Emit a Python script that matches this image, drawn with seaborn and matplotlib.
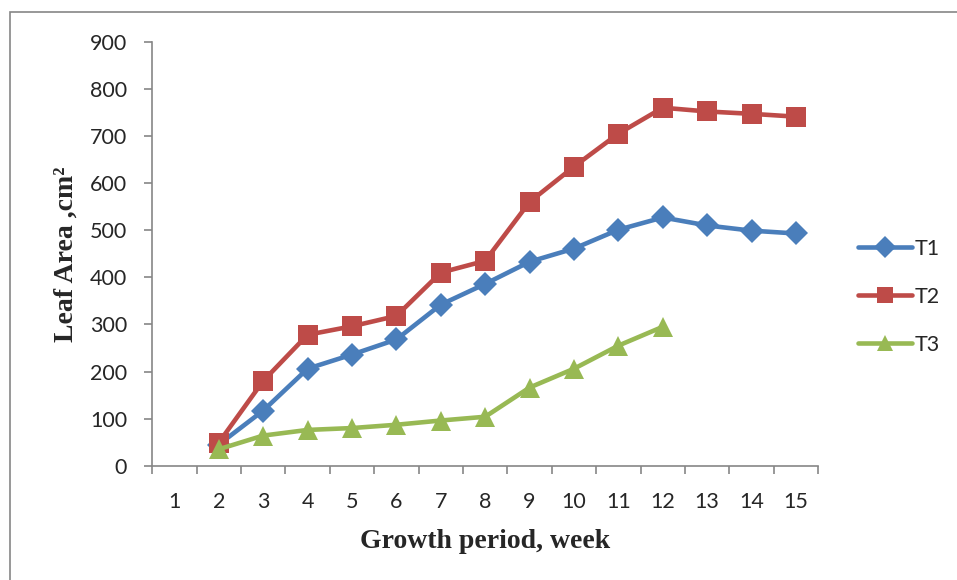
import numpy as np
import pandas as pd
import seaborn as sns
import matplotlib.pyplot as plt
from matplotlib.patches import Rectangle

sns.set_style("white")

weeks = list(range(1, 16))
t1_weeks = list(range(2, 16))
t1 = [45, 117, 206, 236, 268, 342, 386, 433, 461, 501, 527, 510, 499, 493]
t2_weeks = list(range(2, 16))
t2 = [49, 180, 278, 296, 318, 410, 435, 560, 635, 705, 760, 752, 747, 741]
t3_weeks = list(range(2, 13))
t3 = [35, 64, 76, 80, 87, 96, 104, 166, 206, 255, 295]

df = pd.concat([
    pd.DataFrame({'week': t1_weeks, 'area': t1, 'treatment': 'T1'}),
    pd.DataFrame({'week': t2_weeks, 'area': t2, 'treatment': 'T2'}),
    pd.DataFrame({'week': t3_weeks, 'area': t3, 'treatment': 'T3'}),
])

palette = {'T1': '#4A7EBB', 'T2': '#BE4B48', 'T3': '#98B954'}
markers = {'T1': 'D', 'T2': 's', 'T3': '^'}
sizes = {'T1': 12, 'T2': 14, 'T3': 14}

fig = plt.figure(figsize=(9.57, 5.80), dpi=100)
ax = fig.add_axes([0.159, 0.197, 0.696, 0.731])

for name, sub in df.groupby('treatment'):
    sns.lineplot(data=sub, x='week', y='area', color=palette[name], marker=markers[name],
                 markersize=sizes[name], markeredgewidth=0, linewidth=3.3, label=name, ax=ax)

ax.set_xlim(0.5, 15.5)
ax.set_ylim(0, 900)
ax.set_yticks(range(0, 901, 100))
ax.set_xticks(weeks)
ax.set_xticks(np.arange(0.5, 15.6, 1), minor=True)
ax.tick_params(axis='x', which='major', bottom=True, length=0, pad=19, labelsize=15.5)
ax.tick_params(axis='x', which='minor', bottom=True, length=6, color='#868686', width=1.2,
               direction='out')
ax.tick_params(axis='y', left=True, length=6, color='#868686', width=1.2, direction='out',
               pad=12, labelsize=15.5)
for lab in ax.get_xticklabels() + ax.get_yticklabels():
    lab.set_family('Lato')

for s in ['top', 'right']:
    ax.spines[s].set_visible(False)
for s in ['left', 'bottom']:
    ax.spines[s].set_color('#868686')
    ax.spines[s].set_linewidth(1.2)

ax.set_xlabel('Growth period, week', family='Liberation Serif', fontweight='bold',
              fontsize=20, labelpad=12)
ax.set_ylabel('Leaf Area ,cm²', family='Liberation Serif', fontweight='bold',
              fontsize=20, labelpad=8)

leg = ax.legend(loc='center left', bbox_to_anchor=(858 / 957, 1 - 297 / 580),
                bbox_transform=fig.transFigure, frameon=False, borderpad=0, borderaxespad=0,
                handlelength=2.5, handletextpad=0.15, labelspacing=1.3,
                prop={'family': 'Lato', 'size': 15.5})
for h in leg.legend_handles:
    h.set_markersize(11)

fig.patches.append(Rectangle((10 / 957, -0.1), 1.2, 1.1 - 12 / 580, transform=fig.transFigure,
                             fill=False, edgecolor='#868686', linewidth=1.2))

fig.savefig('out.png', dpi=100)
